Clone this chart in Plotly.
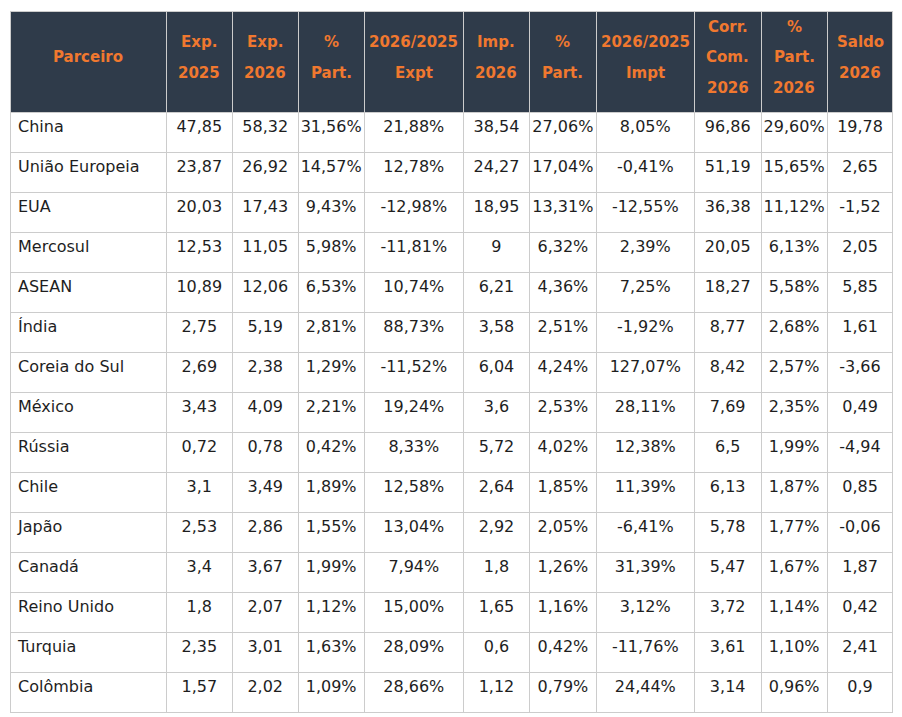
import plotly.graph_objects as go

partners = ["China", "União Europeia", "EUA", "Mercosul", "ASEAN", "Índia", "Coreia do Sul",
            "México", "Rússia", "Chile", "Japão", "Canadá", "Reino Unido", "Turquia", "Colômbia"]
exp2025 = [47.85, 23.87, 20.03, 12.53, 10.89, 2.75, 2.69, 3.43, 0.72, 3.1, 2.53, 3.4, 1.8, 2.35, 1.57]
exp2026 = [58.32, 26.92, 17.43, 11.05, 12.06, 5.19, 2.38, 4.09, 0.78, 3.49, 2.86, 3.67, 2.07, 3.01, 2.02]
part_exp = [31.56, 14.57, 9.43, 5.98, 6.53, 2.81, 1.29, 2.21, 0.42, 1.89, 1.55, 1.99, 1.12, 1.63, 1.09]
var_exp = [21.88, 12.78, -12.98, -11.81, 10.74, 88.73, -11.52, 19.24, 8.33, 12.58, 13.04, 7.94, 15.00, 28.09, 28.66]
imp2026 = [38.54, 24.27, 18.95, 9, 6.21, 3.58, 6.04, 3.6, 5.72, 2.64, 2.92, 1.8, 1.65, 0.6, 1.12]
part_imp = [27.06, 17.04, 13.31, 6.32, 4.36, 2.51, 4.24, 2.53, 4.02, 1.85, 2.05, 1.26, 1.16, 0.42, 0.79]
var_imp = [8.05, -0.41, -12.55, 2.39, 7.25, -1.92, 127.07, 28.11, 12.38, 11.39, -6.41, 31.39, 3.12, -11.76, 24.44]
corr_com = [96.86, 51.19, 36.38, 20.05, 18.27, 8.77, 8.42, 7.69, 6.5, 6.13, 5.78, 5.47, 3.72, 3.61, 3.14]
part_corr = [29.60, 15.65, 11.12, 6.13, 5.58, 2.68, 2.57, 2.35, 1.99, 1.87, 1.77, 1.67, 1.14, 1.10, 0.96]
saldo = [19.78, 2.65, -1.52, 2.05, 5.85, 1.61, -3.66, 0.49, -4.94, 0.85, -0.06, 1.87, 0.42, 2.41, 0.9]

headers = [["Parceiro"], ["Exp.", "2025"], ["Exp.", "2026"], ["%", "Part."], ["2026/2025", "Expt"],
           ["Imp.", "2026"], ["%", "Part."], ["2026/2025", "Impt"], ["Corr.", "Com.", "2026"],
           ["%", "Part.", "2026"], ["Saldo", "2026"]]


def num(v):
    return f"{v:g}".replace(".", ",")


def pct(v):
    return f"{v:.2f}%".replace(".", ",")


columns = [partners,
           [num(v) for v in exp2025], [num(v) for v in exp2026], [pct(v) for v in part_exp],
           [pct(v) for v in var_exp], [num(v) for v in imp2026], [pct(v) for v in part_imp],
           [pct(v) for v in var_imp], [num(v) for v in corr_com], [pct(v) for v in part_corr],
           [num(v) for v in saldo]]

W, H = 902, 717
PAGE_OFFSET = 8  # default page body margin
left, right, top = 10 - PAGE_OFFSET, 893 - PAGE_OFFSET, 11.5 - PAGE_OFFSET
col_px = [156.5, 66, 66, 66, 99.5, 66, 67, 98, 67, 66, 66]
header_h = 100.5
row_h = 40

HEADER_BG = "#2f3b4a"
ORANGE = "#f0782f"
LINE = "#cccccc"
FONT = "DejaVu Sans"

fig = go.Figure(go.Table(
    domain=dict(x=[left / W, right / W], y=[0, 1 - top / H]),
    columnwidth=col_px,
    header=dict(values=[""] * len(headers), fill_color=HEADER_BG, height=header_h,
                line=dict(color=LINE, width=1)),
    cells=dict(values=columns, height=row_h,
               align=["left"] + ["center"] * 10,
               fill_color="white",
               line=dict(color=LINE, width=1),
               font=dict(family=FONT, size=16, color="#1e1e1e")),
))

# header text, one annotation per line, centered in each header cell
scale = (right - left) / sum(col_px)
x0 = left
center_y = top + header_h / 2 - 4.5
spacing = 30.5
for w, lines in zip(col_px, headers):
    cx = x0 + w * scale / 2
    n = len(lines)
    for i, t in enumerate(lines):
        ypx = center_y + (i - (n - 1) / 2) * spacing
        fig.add_annotation(x=cx / W, y=1 - ypx / H, xref="paper", yref="paper",
                           text=f"<b>{t}</b>", showarrow=False, xanchor="center", yanchor="middle",
                           font=dict(family=FONT, size=15, color=ORANGE))
    x0 += w * scale

fig.update_layout(width=W, height=H, margin=dict(l=0, r=0, t=0, b=0),
                  paper_bgcolor="white", plot_bgcolor="white")
fig.write_html("out.html")
